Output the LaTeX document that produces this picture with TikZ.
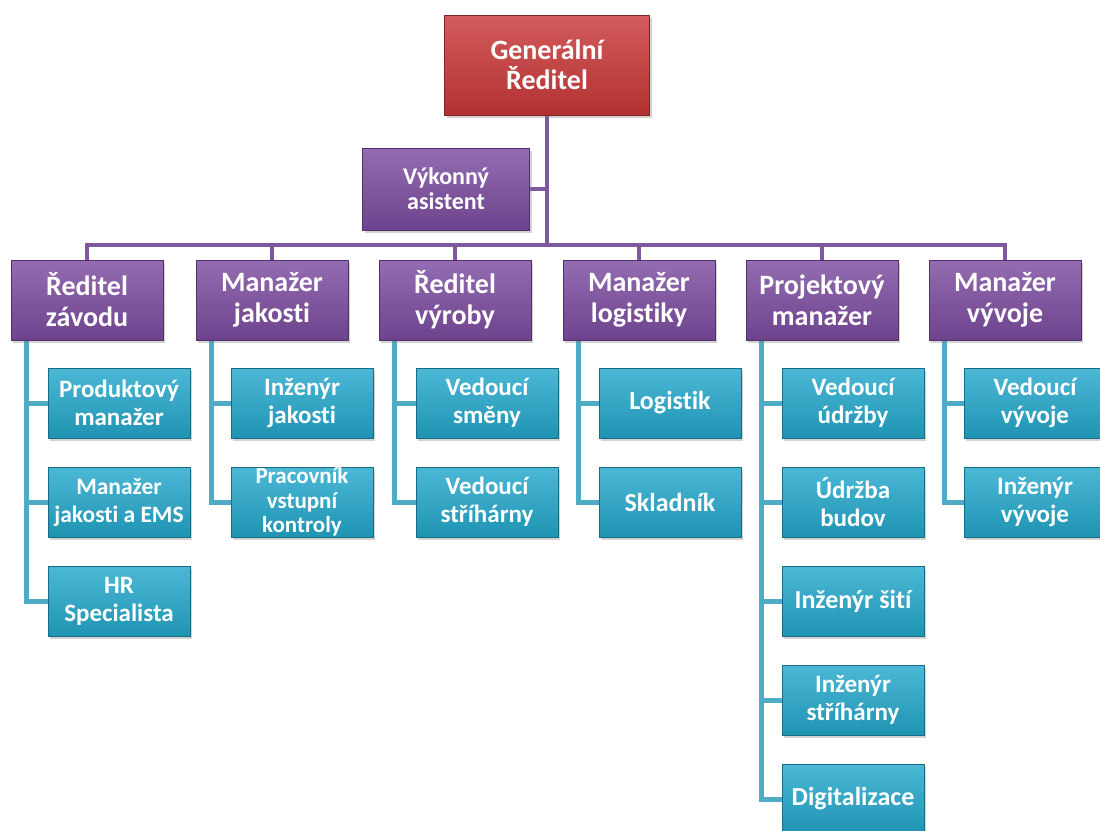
\documentclass[tikz,border=0pt]{standalone}
\usepackage{fontspec}
\setmainfont{Carlito}[Ligatures=NoCommon]
\usetikzlibrary{positioning,shadows,backgrounds}

\definecolor{gred}{RGB}{202,56,56}
\definecolor{gpurple}{RGB}{124,76,160}
\definecolor{gblue}{RGB}{36,168,204}
\definecolor{plinec}{RGB}{128,88,160}
\definecolor{blinec}{RGB}{78,172,198}

\begin{document}
\begin{tikzpicture}[x=1pt, y=-1pt,
    box/.style={rectangle, draw=#1!65!black, line width=0.7pt, text=white,
        font=\bfseries, align=center, inner sep=0pt,
        top color=#1!82!white, bottom color=#1!88!black,
        drop shadow={opacity=0.35, shadow xshift=2pt, shadow yshift=-3pt}},
    topbox/.style={box=gred, minimum width=205pt, minimum height=100pt,
        font=\bfseries\fontsize{28}{30}\selectfont},
    midbox/.style={box=gpurple, minimum width=152pt, minimum height=80pt,
        font=\bfseries\fontsize{28}{31}\selectfont},
    subbox/.style={box=gblue, minimum width=142pt, minimum height=70pt,
        font=\bfseries\fontsize{25}{28}\selectfont},
    onebox/.style={subbox, font=\bfseries\fontsize{26}{28}\selectfont},
    pline/.style={draw=plinec, line width=4pt, line cap=rect},
    bline/.style={draw=blinec, line width=5pt, line join=miter}]

    \path[use as bounding box, clip] (0,0) rectangle (1100,830);

    % vedeni
    \node[topbox] (gr) at (547,65) {Generální\\Ředitel};
    \node[box=gpurple, minimum width=167pt, minimum height=82pt,
        font=\bfseries\fontsize{24}{25}\selectfont] (va) at (446,189) {Výkonný\\asistent};

    % druha uroven
    \node[midbox] (rz) at (87,300) {Ředitel\\závodu};
    \node[midbox] (mj) at (272,300) {Manažer\\jakosti};
    \node[midbox] (rv) at (455,300) {Ředitel\\výroby};
    \node[midbox] (ml) at (639,300) {Manažer\\logistiky};
    \node[midbox] (pm) at (822,300) {Projektový\\manažer};
    \node[midbox] (mv) at (1005,300) {Manažer\\vývoje};

    % podrizeni
    \node[subbox] (rz1) at (119,403) {Produktový\\manažer};
    \node[subbox, font=\bfseries\fontsize{23.5}{28}\selectfont] (rz2) at (119,502) {Manažer\\jakosti a EMS};
    \node[subbox] (rz3) at (119,601) {HR\\Specialista};

    \node[subbox] (mj1) at (302,403) {Inženýr\\jakosti};
    \node[subbox, font=\bfseries\fontsize{23}{24.5}\selectfont] (mj2) at (302,502) {Pracovník\\vstupní\\kontroly};

    \node[subbox] (rv1) at (487,403) {Vedoucí\\směny};
    \node[subbox] (rv2) at (487,502) {Vedoucí\\stříhárny};

    \node[onebox] (ml1) at (670,403) {Logistik};
    \node[onebox] (ml2) at (670,502) {Skladník};

    \node[subbox] (pm1) at (853,403) {Vedoucí\\údržby};
    \node[subbox] (pm2) at (853,502) {Údržba\\budov};
    \node[onebox] (pm3) at (853,601) {Inženýr šití};
    \node[subbox] (pm4) at (853,700) {Inženýr\\stříhárny};
    \node[onebox] (pm5) at (853,799) {Digitalizace};

    \node[subbox] (mv1) at (1035,403) {Vedoucí\\vývoje};
    \node[subbox] (mv2) at (1035,502) {Inženýr\\vývoje};

    \begin{scope}[on background layer]
        % purpurove spoje
        \coordinate (bus) at (547,245);
        \draw[pline] (gr.south) -- (bus);
        \draw[pline] (va.east) -- (va.east -| gr.south);
        \draw[pline] (rz.north |- bus) -- (mv.north |- bus);
        \foreach \n in {rz,mj,rv,ml,pm,mv}
            \draw[pline] (\n.north) -- (\n.north |- bus);

        % modre spoje
        \foreach \p/\c in {rz/rz1,rz/rz2,rz/rz3,mj/mj1,mj/mj2,rv/rv1,rv/rv2,
                ml/ml1,ml/ml2,pm/pm1,pm/pm2,pm/pm3,pm/pm4,pm/pm5,mv/mv1,mv/mv2}
            \draw[bline] ([xshift=16pt]\p.south west) |- (\c.west);
    \end{scope}

\end{tikzpicture}
\end{document}
